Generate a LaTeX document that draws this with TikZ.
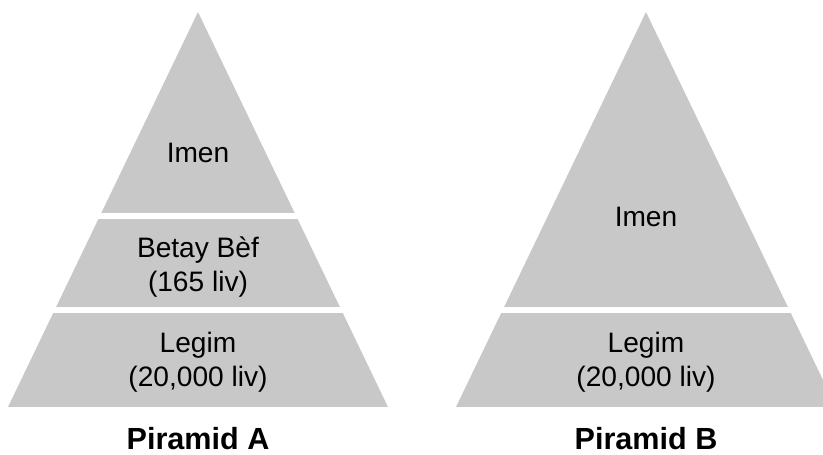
\documentclass[tikz,border=0pt]{standalone}
\usepackage{fontspec}
\setmainfont{Liberation Sans}
\usepackage{tikz}
\definecolor{pyrfill}{RGB}{200,200,200}
\tikzset{
    layer/.style={fill=pyrfill},
    gap/.style={draw=white, line width=3.4pt},
    laytext/.style={align=center, font=\fontsize{16}{19.3}\selectfont},
    pyrtitle/.style={font=\fontsize{17.4}{20}\selectfont\bfseries},
}

\begin{document}
\begin{tikzpicture}[x=0.02cm, y=-0.02cm]
                \useasboundingbox (0,0) rectangle (823,455);
                \clip (0,0) rectangle (823,455);
                \fill[layer] (198,12) -- (388,407) -- (8,407) -- cycle;
                \fill[layer] (646,12) -- (836,407) -- (456,407) -- cycle;
                \foreach \y in {216,310} {
                    \draw[gap] (0,\y) -- (420,\y);
                }
                \draw[gap] (430,310) -- (823,310);

                \node[laytext] (imenA) at (198,153) {Imen};
                \node[laytext] (betayA) at (198,267) {Betay Bèf\\(165 liv)};
                \node[laytext] (legimA) at (198,362) {Legim\\(20,000 liv)};
                \node[pyrtitle] (titleA) at (198,439) {Piramid A};

                \node[laytext] (imenB) at (646,217) {Imen};
                \node[laytext] (legimB) at (646,362) {Legim\\(20,000 liv)};
                \node[pyrtitle] (titleB) at (646,439) {Piramid B};

            \end{tikzpicture}
\end{document}
